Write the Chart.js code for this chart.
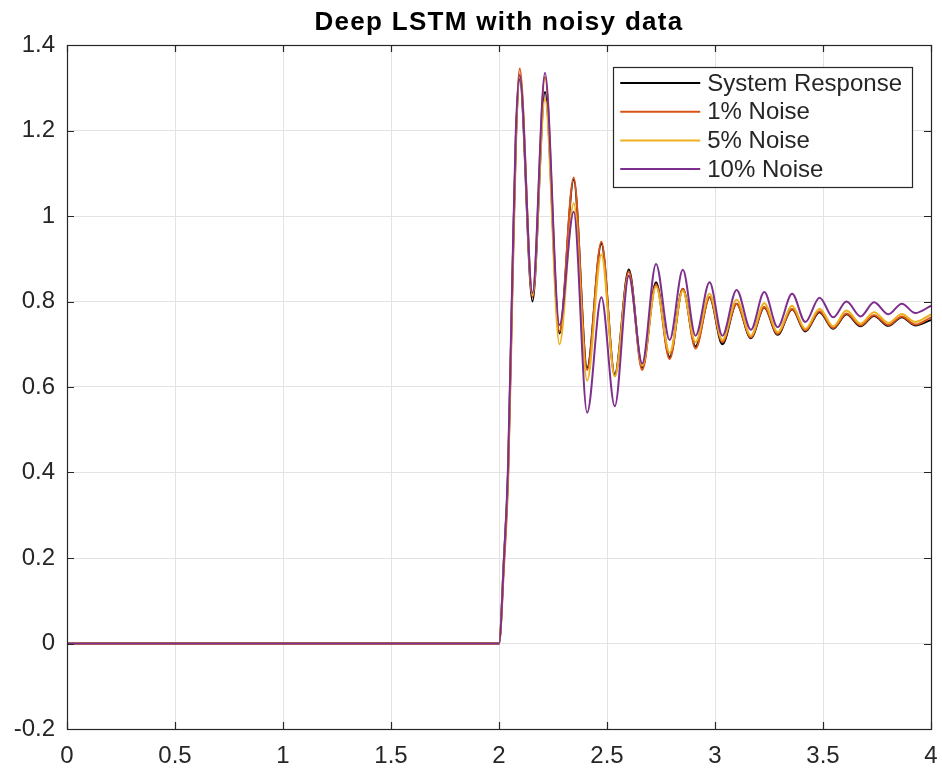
<!DOCTYPE html>
<html>
<head>
<meta charset="utf-8">
<script src="https://cdn.jsdelivr.net/npm/chart.js@4/dist/chart.umd.min.js"></script>
<style>
  body { margin: 0; background: #fff; }
  #wrap { width: 942px; height: 769px; position: relative; }
</style>
</head>
<body>
<div id="wrap"><canvas id="grafico"></canvas></div>
<script>
// tiempos de los puntos leidos (picos y valles)
var tiempos = [0, 2.0, 2.023, 2.042, 2.062, 2.078, 2.096, 2.155, 2.213, 2.28, 2.346, 2.408,
  2.474, 2.536, 2.601, 2.663, 2.727, 2.79, 2.851, 2.91, 2.975, 3.034, 3.10, 3.166, 3.228,
  3.29, 3.357, 3.418, 3.484, 3.547, 3.609, 3.674, 3.736, 3.803, 3.865, 3.927, 4.0];

// valores de cada serie
var respuesta = [0, 0, 0.2, 0.4, 0.85, 1.18, 1.32, 0.80, 1.29, 0.725, 1.085, 0.645,
  0.935, 0.63, 0.875, 0.645, 0.845, 0.67, 0.83, 0.695, 0.81, 0.70, 0.795, 0.714, 0.786,
  0.722, 0.782, 0.73, 0.775, 0.736, 0.77, 0.742, 0.766, 0.743, 0.763, 0.744, 0.757];
var ruido1 = [0, 0, 0.18, 0.38, 0.82, 1.16, 1.345, 0.81, 1.325, 0.73, 1.09, 0.64,
  0.94, 0.625, 0.87, 0.64, 0.84, 0.665, 0.83, 0.69, 0.81, 0.705, 0.795, 0.716, 0.787,
  0.724, 0.783, 0.732, 0.777, 0.738, 0.772, 0.744, 0.768, 0.745, 0.765, 0.746, 0.763];
var ruido5 = [0, 0, 0.2, 0.4, 0.85, 1.18, 1.33, 0.815, 1.275, 0.70, 1.03, 0.615,
  0.91, 0.625, 0.86, 0.65, 0.835, 0.68, 0.825, 0.705, 0.818, 0.71, 0.804, 0.72, 0.796,
  0.728, 0.79, 0.736, 0.783, 0.742, 0.779, 0.748, 0.775, 0.75, 0.771, 0.752, 0.77];
var ruido10 = [0, 0, 0.2, 0.42, 0.87, 1.2, 1.33, 0.82, 1.335, 0.745, 1.01, 0.54,
  0.81, 0.555, 0.86, 0.655, 0.888, 0.71, 0.874, 0.72, 0.845, 0.72, 0.827, 0.734, 0.822,
  0.74, 0.818, 0.752, 0.809, 0.763, 0.80, 0.765, 0.798, 0.77, 0.795, 0.773, 0.79];

var etiquetas = ["System Response", "1% Noise", "5% Noise", "10% Noise"];
var colores = ["#000000", "#D95319", "#EDB120", "#7E2F8E"];
var series = [respuesta, ruido1, ruido5, ruido10];

var ticksX = [0, 0.5, 1, 1.5, 2, 2.5, 3, 3.5, 4];
var ticksY = [-0.2, 0, 0.2, 0.4, 0.6, 0.8, 1, 1.2, 1.4];

var FUENTE = "'Liberation Sans', Arial, sans-serif";
var GRIS = "#262626";

function puntos(valores) {
  return tiempos.map(function (t, i) { return { x: t, y: valores[i] }; });
}

var datasets = series.map(function (s, i) {
  return {
    label: etiquetas[i],
    data: puntos(s),
    borderColor: colores[i],
    backgroundColor: colores[i],
    borderWidth: 2,
    pointRadius: 0,
    cubicInterpolationMode: "monotone",
    order: 4 - i, // la ultima serie queda encima
  };
});

// caja de ejes, marcas hacia adentro, titulo y leyenda estilo matlab
var estiloMatlab = {
  id: "estiloMatlab",
  afterDatasetsDraw: function (chart) {
    var ctx = chart.ctx;
    var a = chart.chartArea;
    var sx = chart.scales.x, sy = chart.scales.y;
    ctx.save();
    ctx.strokeStyle = GRIS;
    ctx.lineWidth = 1.2;
    ctx.strokeRect(Math.round(a.left) + 0.5, Math.round(a.top) + 0.5,
      Math.round(a.right - a.left), Math.round(a.bottom - a.top));
    ctx.beginPath();
    ticksX.forEach(function (v) {
      var px = Math.round(sx.getPixelForValue(v)) + 0.5;
      ctx.moveTo(px, a.bottom); ctx.lineTo(px, a.bottom - 7);
      ctx.moveTo(px, a.top); ctx.lineTo(px, a.top + 7);
    });
    ticksY.forEach(function (v) {
      var py = Math.round(sy.getPixelForValue(v)) + 0.5;
      ctx.moveTo(a.left, py); ctx.lineTo(a.left + 7, py);
      ctx.moveTo(a.right, py); ctx.lineTo(a.right - 7, py);
    });
    ctx.stroke();

    // titulo
    ctx.fillStyle = "#000";
    ctx.font = "bold 26px " + FUENTE;
    ctx.letterSpacing = "1.3px";
    ctx.textAlign = "center";
    ctx.textBaseline = "middle";
    ctx.fillText("Deep LSTM with noisy data", (a.left + a.right) / 2, 23);
    ctx.letterSpacing = "0px";

    // leyenda
    ctx.font = "24px " + FUENTE;
    var ancho = 0;
    etiquetas.forEach(function (e) { ancho = Math.max(ancho, ctx.measureText(e).width); });
    var fila = 28.7;
    var w = 94 + ancho + 10;
    var h = fila * etiquetas.length + 5;
    var x0 = a.right - 19 - w;
    var y0 = a.top + 22;
    ctx.fillStyle = "#fff";
    ctx.fillRect(x0, y0, w, h);
    ctx.strokeStyle = GRIS;
    ctx.lineWidth = 1.2;
    ctx.strokeRect(Math.round(x0) + 0.5, Math.round(y0) + 0.5, Math.round(w), Math.round(h));
    ctx.textAlign = "left";
    etiquetas.forEach(function (e, i) {
      var cy = y0 + 16 + i * fila;
      ctx.strokeStyle = colores[i];
      ctx.lineWidth = 2;
      ctx.beginPath();
      ctx.moveTo(x0 + 7, cy); ctx.lineTo(x0 + 87, cy);
      ctx.stroke();
      ctx.fillStyle = GRIS;
      ctx.fillText(e, x0 + 94, cy + 1);
    });
    ctx.restore();
  },
};

function formato(v) {
  return String(Number(v.toFixed(1)));
}

new Chart(document.getElementById("grafico"), {
  type: "line",
  data: { datasets: datasets },
  options: {
    responsive: true,
    maintainAspectRatio: false,
    animation: false,
    layout: { padding: { top: 45, right: 11, left: 0, bottom: 0 } },
    plugins: { legend: { display: false }, title: { display: false }, tooltip: { enabled: false } },
    scales: {
      x: {
        type: "linear",
        min: 0,
        max: 4,
        afterBuildTicks: function (s) { s.ticks = ticksX.map(function (v) { return { value: v }; }); },
        afterFit: function (s) { s.height = 40; s.paddingRight = 0; s.paddingLeft = 0; },
        ticks: { callback: formato, color: GRIS, font: { family: FUENTE, size: 24 }, padding: 13, maxRotation: 0 },
        grid: { color: "#e3e3e3", drawTicks: false },
        border: { display: false },
      },
      y: {
        min: -0.2,
        max: 1.4,
        afterBuildTicks: function (s) { s.ticks = ticksY.map(function (v) { return { value: v }; }); },
        afterFit: function (s) { s.width = 67; s.paddingTop = 0; s.paddingBottom = 0; },
        ticks: { callback: formato, color: GRIS, font: { family: FUENTE, size: 24 }, padding: 12 },
        grid: { color: "#e3e3e3", drawTicks: false },
        border: { display: false },
      },
    },
  },
  plugins: [estiloMatlab],
});
</script>
</body>
</html>
